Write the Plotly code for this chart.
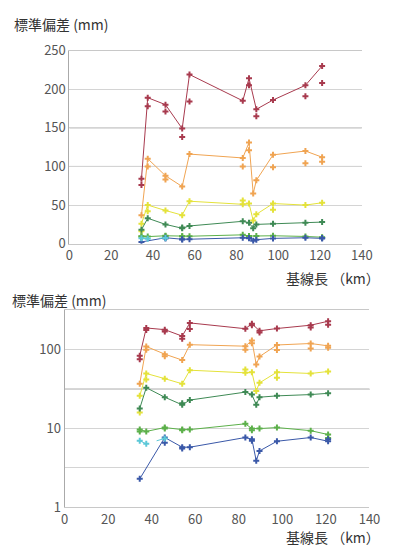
import plotly.graph_objects as go

# ---- data (baseline length km, standard deviation mm) ----
km = [34.5, 37.5, 46, 54, 57.5, 83, 86, 88, 89.5, 97.5, 113, 121]

red     = [84, 189, 180, 149, 219, 185, 214, None, 174, 186, 205, 230]
red2    = [76, 178, 171, 138, 184, None, 205, None, 165, None, 191, 208]
orange  = [37, 110, 88, 74, 116, 111, 131, 65, 82, 115, 120, 112]
orange2 = [None, 100, 83, None, None, 100, 121, None, None, 99, 104, 106]
yellow  = [26, 50, 43, 37, 55, 51, 52, 30, 38, 52, 50, 53]
yellow2 = [16, 42, None, None, None, 56, None, None, None, 44, None, None]
green   = [18, 33, 25, 20, 23, 29, 27, 20, 25, 26, 27, 28]
green2  = [None, None, None, 21, None, None, None, None, None, None, None, None]
lgreen  = [9.7, 9.2, 10.3, 9.7, 9.7, 11.5, 10.0, None, 10.0, 10.3, 9.4, 8.4]
lgreen2 = [9.2, None, 10.0, 9.5, None, None, 9.5, None, None, None, None, 7.6]
blue    = [2.3, None, 7.7, 5.8, 5.8, 7.7, 7.3, 3.9, 5.2, 6.9, 7.7, 6.9]
blue2   = [None, None, 6.6, 5.6, None, None, 7.0, None, None, None, None, 7.3]
cyan    = [7.0, 6.4, 7.5, None, None, None, None, None, None, None, None, None]

x_ticks = [0, 20, 40, 60, 80, 100, 120, 140]
y_ticks_lin = [0, 50, 100, 150, 200, 250]
y_ticks_log = [1, 10, 100]
y_minor_log = [3.162, 31.62, 316.2]

series = [
    (red, red2, "#a83a4e", "solid"),
    (orange, orange2, "#f0a452", "solid"),
    (yellow, yellow2, "#e4e23a", "solid"),
    (green, green2, "#3f8a55", "solid"),
    (lgreen, lgreen2, "#5cb04a", "solid"),
    (blue, blue2, "#3a58a8", "solid"),
    (cyan, None, "#5cc8d8", "dash"),
]

FONT = "Noto Sans CJK JP"
fig = go.Figure()

for xa, ya in (("x", "y"), ("x2", "y2")):
    for main, extra, col, dash in series:
        fig.add_trace(go.Scatter(
            x=km, y=main, mode="lines+markers", connectgaps=True,
            line=dict(color=col, width=1, dash=dash),
            marker=dict(symbol="cross", size=5, color=col),
            xaxis=xa, yaxis=ya, showlegend=False, hoverinfo="x+y"))
        if extra is not None:
            fig.add_trace(go.Scatter(
                x=km, y=extra, mode="markers",
                marker=dict(symbol="cross", size=5, color=col),
                xaxis=xa, yaxis=ya, showlegend=False, hoverinfo="x+y"))

W, H = 393, 555
axis_font = dict(family=FONT, size=13, color="#555")

fig.update_layout(
    width=W, height=H, margin=dict(l=0, r=0, t=0, b=0),
    paper_bgcolor="white", plot_bgcolor="white",
    font=dict(family=FONT, color="#444"),
    xaxis=dict(domain=[68 / W, 372 / W], range=[0, 140], tickvals=x_ticks,
               showgrid=False, zeroline=False, showline=True, mirror=True,
               linecolor="#c8c8c8", tickfont=axis_font, anchor="y"),
    yaxis=dict(domain=[1 - 242 / H, 1 - 42 / H], range=[0, 250], tickvals=y_ticks_lin,
               showgrid=True, gridcolor="#d4d4d4", zeroline=False, showline=True,
               linecolor="#aaaaaa", tickfont=axis_font, anchor="x"),
    xaxis2=dict(domain=[63 / W, 380 / W], range=[0, 140], tickvals=x_ticks,
                showgrid=False, zeroline=False, showline=True, mirror=True,
                linecolor="#c8c8c8", tickfont=axis_font, anchor="y2"),
    yaxis2=dict(domain=[1 - 515 / H, 1 - 311 / H], type="log", range=[0, 2.5],
                tickvals=y_ticks_log, showgrid=True, gridcolor="#d4d4d4",
                minor=dict(tickvals=y_minor_log, showgrid=True, gridcolor="#d4d4d4"),
                zeroline=False, showline=True, linecolor="#aaaaaa",
                tickfont=axis_font, anchor="x2"),
)

# darker grid lines
for v in (100, 150):
    fig.add_shape(type="line", xref="x domain", yref="y", x0=0, x1=1, y0=v, y1=v,
                  line=dict(color="#9a9a9a", width=1), layer="below")
fig.add_shape(type="line", xref="x2 domain", yref="y2", x0=0, x1=1,
              y0=y_minor_log[1], y1=y_minor_log[1],
              line=dict(color="#8a8a8a", width=1), layer="below")

title_font = dict(family=FONT, size=14, color="#333")
fig.add_annotation(text="標準偏差 (mm)", xref="paper", yref="paper",
                   x=8 / W, y=1 - 15 / H, xanchor="left", yanchor="middle",
                   showarrow=False, font=title_font)
fig.add_annotation(text="基線長 （km）", xref="paper", yref="paper",
                   x=393 / W, y=1 - 278 / H, xanchor="right", yanchor="middle",
                   showarrow=False, font=title_font)
fig.add_annotation(text="標準偏差 (mm)", xref="paper", yref="paper",
                   x=6 / W, y=1 - 300 / H, xanchor="left", yanchor="middle",
                   showarrow=False, font=title_font)
fig.add_annotation(text="基線長 （km）", xref="paper", yref="paper",
                   x=393 / W, y=1 - 546 / H, xanchor="right", yanchor="middle",
                   showarrow=False, font=title_font)

fig.write_html(
    "out.html",
    config={"displayModeBar": False},
    post_script="document.body.style.margin='0';document.body.style.overflow='hidden';",
)
